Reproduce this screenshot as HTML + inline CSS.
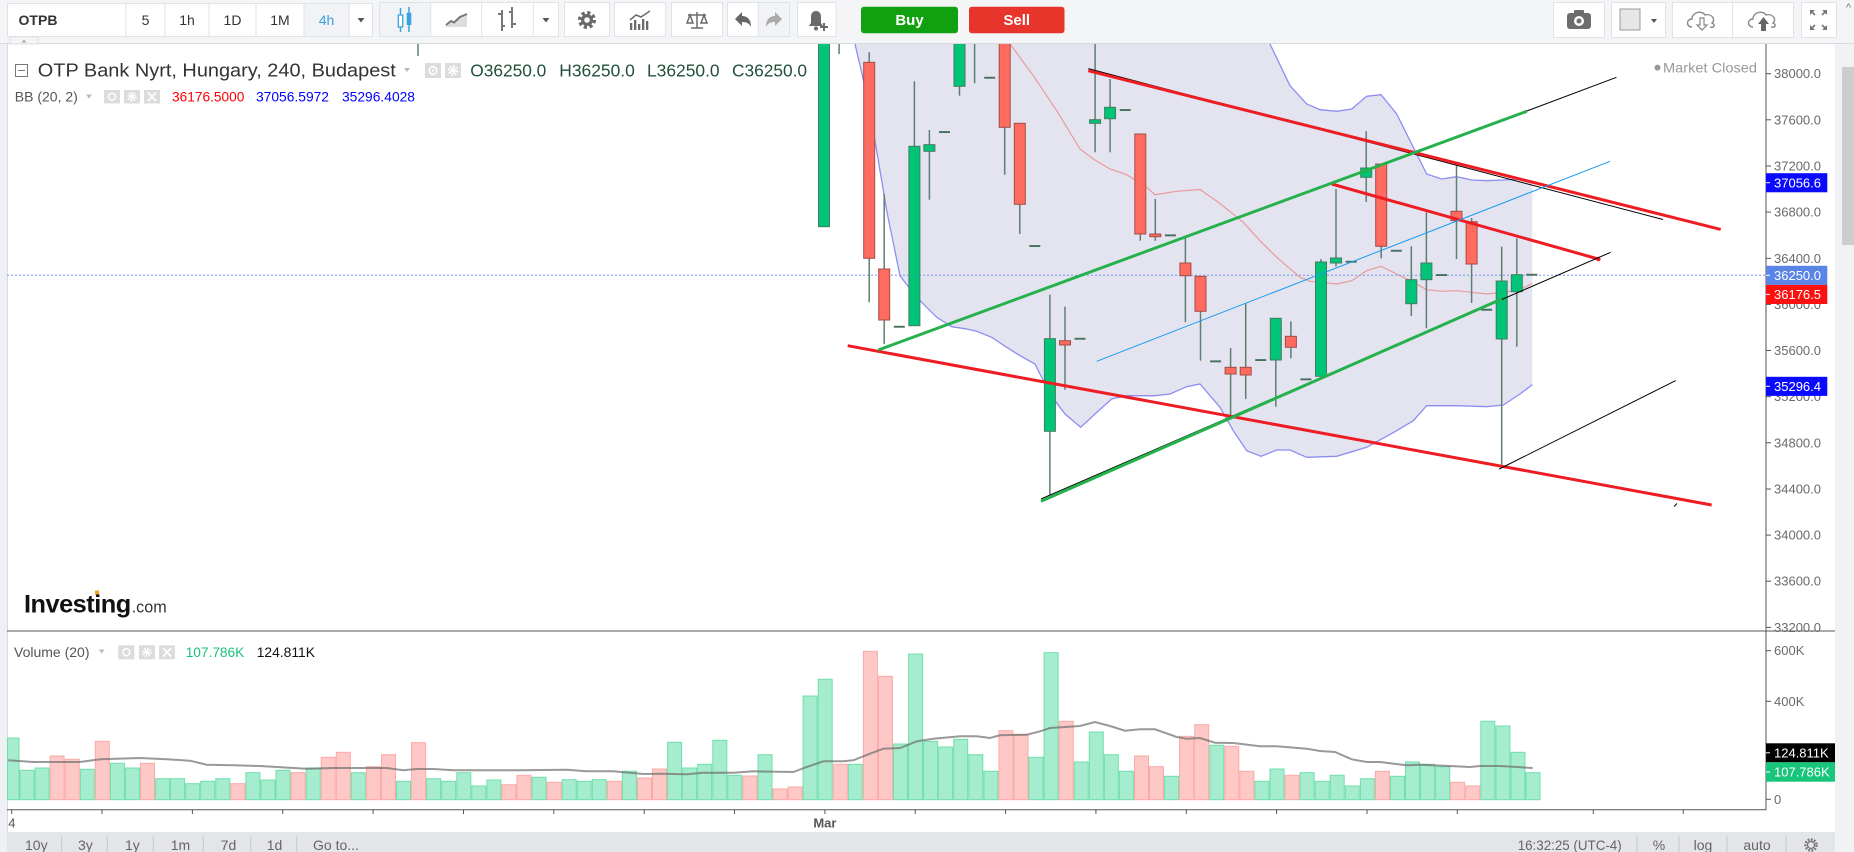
<!DOCTYPE html>
<html><head><meta charset="utf-8"><style>
html,body{margin:0;padding:0;background:#fff;overflow:hidden}
svg{display:block}
text{font-family:"Liberation Sans",Arial,sans-serif}
</style></head><body>
<svg xmlns="http://www.w3.org/2000/svg" width="1854" height="852" viewBox="0 0 1854 852">
<defs>
<clipPath id="pc"><rect x="7" y="44" width="1759" height="587"/></clipPath>
<clipPath id="vc"><rect x="7" y="632" width="1759" height="177"/></clipPath>
</defs>
<!-- backgrounds -->
<rect x="0" y="0" width="1854" height="852" fill="#eff0f3"/>
<rect x="0" y="0" width="1854" height="43.5" fill="#f4f5f7"/>
<line x1="0" y1="43.5" x2="1854" y2="43.5" stroke="#d6d9dd"/>
<rect x="7" y="44" width="1828" height="788" fill="#fff"/>
<line x1="7.5" y1="44" x2="7.5" y2="832" stroke="#d8dbe0"/>
<rect x="1835" y="44" width="19" height="808" fill="#f1f2f4"/>
<rect x="1842" y="67" width="12" height="178" fill="#cdcdcd"/>
<text x="1846" y="11" font-size="11" fill="#777">^</text>
<rect x="7" y="832" width="1828" height="20" fill="#e4e5e8"/>
<rect x="10" y="37" width="28" height="7" fill="#f4f5f7" stroke="#dcdfe3"/>
<path d="M21.5 42.5 L24 39.5 L26.5 42.5Z" fill="#aaa"/>

<!-- TOOLBAR -->
<g font-size="14" fill="#333" text-anchor="middle">
<rect x="7.5" y="3.5" width="365" height="33" fill="#fff" stroke="#dfe2e6"/>
<rect x="304" y="4" width="45" height="32" fill="#f1f3f6"/>
<g stroke="#dfe2e6"><line x1="126" y1="4" x2="126" y2="36"/><line x1="165" y1="4" x2="165" y2="36"/><line x1="209" y1="4" x2="209" y2="36"/><line x1="256" y1="4" x2="256" y2="36"/><line x1="304" y1="4" x2="304" y2="36"/><line x1="349" y1="4" x2="349" y2="36"/></g>
<text x="38" y="25" font-weight="bold">OTPB</text>
<text x="145.5" y="25">5</text><text x="187" y="25">1h</text><text x="232.5" y="25">1D</text><text x="280" y="25">1M</text>
<text x="326.5" y="25" fill="#3ba1de">4h</text>
<path d="M357.5 18 L364.5 18 L361 22.5Z" fill="#555"/>
<!-- chart style group -->
<rect x="379.5" y="2.5" width="179" height="34" fill="#fff" stroke="#dfe2e6"/>
<rect x="380" y="3" width="50.5" height="33" fill="#f1f3f6"/>
<g stroke="#dfe2e6"><line x1="430.7" y1="3" x2="430.7" y2="36"/><line x1="481.7" y1="3" x2="481.7" y2="36"/><line x1="533.3" y1="3" x2="533.3" y2="36"/></g>
<g stroke="#39a3e0" stroke-width="1.5"><line x1="400.5" y1="8" x2="400.5" y2="32"/><line x1="409" y1="7" x2="409" y2="32"/></g>
<rect x="398.3" y="15" width="4.4" height="12" fill="#fff" stroke="#39a3e0" stroke-width="1.3"/>
<rect x="406.7" y="12.7" width="4.6" height="12.3" fill="#39a3e0"/>
<path d="M446 27 L446 25 L451 21 L454 22.5 L460 17 L467 14 L467 27Z" fill="#ddd"/>
<polyline points="446,25 451,21 454,22.5 460,17 467,14" fill="none" stroke="#777" stroke-width="2"/>
<g stroke="#777" stroke-width="2"><line x1="502" y1="10" x2="502" y2="31"/><line x1="498" y1="14" x2="502" y2="14"/><line x1="502" y1="26" x2="505" y2="26"/><line x1="512" y1="7" x2="512" y2="28"/><line x1="509" y1="12" x2="512" y2="12"/><line x1="512" y1="24" x2="516" y2="24"/></g>
<path d="M542.5 18 L549.5 18 L546 22.5Z" fill="#555"/>
<!-- gear -->
<rect x="564.5" y="2.5" width="45" height="34" fill="#fff" stroke="#dfe2e6"/>
<circle cx="587" cy="20" r="7" fill="none" stroke="#6a6a6a" stroke-width="4" stroke-dasharray="3 2.5"/>
<circle cx="587" cy="20" r="6" fill="#6a6a6a"/><circle cx="587" cy="20" r="2.8" fill="#fff"/>
<!-- indicators -->
<rect x="614.5" y="2.5" width="51" height="34" fill="#fff" stroke="#dfe2e6"/>
<g fill="#6a6a6a"><rect x="630" y="23" width="2.3" height="7"/><rect x="634" y="20" width="2.3" height="10"/><rect x="638" y="24" width="2.3" height="6"/><rect x="642" y="19" width="2.3" height="11"/><rect x="646" y="21" width="2.3" height="9"/></g>
<polyline points="630,20 636,15 641,17 650,11" fill="none" stroke="#6a6a6a" stroke-width="1.5"/>
<!-- scales -->
<rect x="671.5" y="2.5" width="51" height="34" fill="#fff" stroke="#dfe2e6"/>
<g stroke="#6a6a6a" stroke-width="1.5" fill="none"><line x1="697" y1="12" x2="697" y2="28"/><line x1="688" y1="15" x2="706" y2="15"/><line x1="691" y1="28" x2="703" y2="28"/><path d="M690 15 L687 23 L693 23Z"/><path d="M704 15 L701 23 L707 23Z"/></g>
<!-- undo redo -->
<rect x="727.5" y="2.5" width="62" height="34" fill="#fff" stroke="#dfe2e6"/>
<rect x="758.5" y="3" width="30.5" height="33" fill="#f1f3f6"/>
<line x1="758.3" y1="3" x2="758.3" y2="36" stroke="#dfe2e6"/>
<path d="M735 19 L742 12 L742 16 C748 16 751 20 751 27 C749 23 746 22 742 22 L742 26Z" fill="#666"/>
<path d="M782 19 L775 12 L775 16 C769 16 766 20 766 27 C768 23 771 22 775 22 L775 26Z" fill="#aaa"/>
<!-- alert -->
<rect x="797.5" y="2.5" width="38.5" height="34" fill="#fff" stroke="#dfe2e6"/>
<path d="M809 26 L811 23 L811 17 C811 13 813 11 816 11 C819 11 821 13 821 17 L821 23 L823 26Z" fill="#6a6a6a"/>
<circle cx="816" cy="28.5" r="2" fill="#6a6a6a"/>
<g stroke="#6a6a6a" stroke-width="2"><line x1="820" y1="27" x2="828" y2="27"/><line x1="824" y1="23" x2="824" y2="31"/></g>
<!-- buy/sell -->
<rect x="861" y="6.7" width="97" height="26.6" rx="3" fill="#10a010"/>
<text x="909.5" y="25" fill="#fff" font-weight="bold" font-size="15">Buy</text>
<rect x="969" y="6.7" width="95.5" height="26.6" rx="3" fill="#e8352b"/>
<text x="1016.7" y="25" fill="#fff" font-weight="bold" font-size="15">Sell</text>
<!-- right tools -->
<rect x="1553.5" y="2.5" width="51" height="35" fill="#fff" stroke="#dfe2e6"/>
<rect x="1574" y="10" width="10" height="4" rx="1" fill="#6d6d6d"/>
<rect x="1567" y="13" width="24" height="16" rx="3" fill="#6d6d6d"/>
<circle cx="1579" cy="21" r="5" fill="#fff"/><circle cx="1579" cy="21" r="2.5" fill="#6d6d6d"/>
<rect x="1611.5" y="2.5" width="54" height="35" fill="#fff" stroke="#dfe2e6"/>
<rect x="1620" y="9" width="20" height="21" fill="#e6e6e6" stroke="#999"/>
<path d="M1651 19 L1657 19 L1654 23Z" fill="#555"/>
<rect x="1672.5" y="2.5" width="121" height="35" fill="#fff" stroke="#dfe2e6"/>
<line x1="1732.6" y1="3" x2="1732.6" y2="37" stroke="#dfe2e6"/>
<path d="M1692 27 C1686 27 1686 19 1692 19 C1692 12 1702 10 1705 15 C1712 13 1716 20 1712 23 C1716 25 1714 28 1710 27" fill="none" stroke="#888" stroke-width="1.4"/>
<path d="M1700 18 L1704 18 L1704 25 L1707 25 L1702 30 L1697 25 L1700 25Z" fill="#fff" stroke="#888" stroke-width="1.2"/>
<path d="M1753 27 C1747 27 1747 19 1753 19 C1753 12 1763 10 1766 15 C1773 13 1777 20 1773 23 C1777 25 1775 28 1771 27" fill="none" stroke="#888" stroke-width="1.4"/>
<path d="M1761 31 L1766 31 L1766 24 L1769 24 L1763.5 17 L1758 24 L1761 24Z" fill="#666"/>
<rect x="1801.5" y="2.5" width="35" height="35" fill="#fff" stroke="#dfe2e6"/>
<g stroke="#777" stroke-width="1.6"><line x1="1811" y1="11" x2="1815" y2="15"/><line x1="1826" y1="11" x2="1822" y2="15"/><line x1="1811" y1="29" x2="1815" y2="25"/><line x1="1826" y1="29" x2="1822" y2="25"/></g>
<g fill="#777"><path d="M1810 10 L1815 10 L1810 15Z"/><path d="M1827 10 L1822 10 L1827 15Z"/><path d="M1810 30 L1815 30 L1810 25Z"/><path d="M1827 30 L1822 30 L1827 25Z"/></g>
</g>

<!-- PRICE PANEL -->
<g clip-path="url(#pc)">
<polygon fill="#e3e4f0" points="850,0 1266,0 1270,44 1290,85.7 1306.7,104 1320,109.7 1336.7,111.3 1351.7,109 1366.7,96.3 1381,94.7 1396.7,114 1413.3,147.3 1426.7,174 1441.7,179 1456.7,176.7 1471.7,180 1486.7,180.7 1503.3,180 1520,179 1532.3,182.5 1532.3,384.7 1520,394 1503.3,405 1486.7,406.7 1456.7,405.7 1426.7,405.7 1413.3,420.7 1396.7,430.7 1366.7,447.3 1336.7,456.3 1306.7,457.3 1290,450 1276.7,450 1261,456.3 1246.7,450.7 1233.3,430.7 1220,407.3 1200,384 1186.7,386.7 1170,394 1155,395.7 1140,395.7 1126.7,395.7 1111.7,399 1095,414 1080.7,427.3 1065,414 1055,400.7 1045,384 1035,364 1020,355.7 1006.7,347.3 991.7,337.3 976.7,331.3 966.7,329 951.7,326.7 936.7,317.3 921.7,302.3 910,289 900,275.7 886.7,210.7 876.7,150.7 866.7,94 855,44 850,0"/>
<polyline fill="none" stroke="#8e8ef2" stroke-width="1.3" points="1266,0 1270,44 1290,85.7 1306.7,104 1320,109.7 1336.7,111.3 1351.7,109 1366.7,96.3 1381,94.7 1396.7,114 1413.3,147.3 1426.7,174 1441.7,179 1456.7,176.7 1471.7,180 1486.7,180.7 1503.3,180 1520,179 1532.3,182.5"/>
<polyline fill="none" stroke="#8e8ef2" stroke-width="1.3" points="850,0 855,44 866.7,94 876.7,150.7 886.7,210.7 900,275.7 910,289 921.7,302.3 936.7,317.3 951.7,326.7 966.7,329 976.7,331.3 991.7,337.3 1006.7,347.3 1020,355.7 1035,364 1045,384 1055,400.7 1065,414 1080.7,427.3 1095,414 1111.7,399 1126.7,395.7 1140,395.7 1155,395.7 1170,394 1186.7,386.7 1200,384 1220,407.3 1233.3,430.7 1246.7,450.7 1261,456.3 1276.7,450 1290,450 1306.7,457.3 1336.7,456.3 1366.7,447.3 1396.7,430.7 1413.3,420.7 1426.7,405.7 1456.7,405.7 1486.7,406.7 1503.3,405 1520,394 1532.3,384.7"/>
<polyline fill="none" stroke="#e99a9c" stroke-width="1.2" points="1000,30 1010,44 1033.3,75.7 1056.7,110.7 1080,149 1093.3,159 1110,169 1126.7,174.7 1146.7,187.3 1155,194.7 1176.7,191.3 1200,189.5 1220,203.5 1243.3,222.3 1260,240.7 1276.7,257.3 1300,277.3 1310,281.3 1336.7,284 1351.7,280.7 1366.7,270.7 1381,266.3 1396.7,274 1413.3,282.3 1426.7,289.7 1441.7,291.3 1456.7,290.7 1471.7,292.3 1486.7,294 1503.3,292.3 1520,289.7 1532.3,283.3"/>
<line x1="7" y1="275.2" x2="1766" y2="275.2" stroke="#7b96f0" stroke-width="1" stroke-dasharray="2 2"/>
<line x1="418" y1="44" x2="418" y2="56" stroke="#5e7f70" stroke-width="1.5"/>

<!-- wicks -->
<g stroke="#5e7f70" stroke-width="1.5">
<line x1="839.1" y1="40" x2="839.1" y2="54"/>
<line x1="869.2" y1="52.3" x2="869.2" y2="302.3"/>
<line x1="884.2" y1="194" x2="884.2" y2="344"/>
<line x1="914.4" y1="81.3" x2="914.4" y2="325.7"/>
<line x1="929.4" y1="130" x2="929.4" y2="199.7"/>
<line x1="959.5" y1="30" x2="959.5" y2="95.7"/>
<line x1="974.6" y1="40" x2="974.6" y2="83.3"/>
<line x1="1004.7" y1="30" x2="1004.7" y2="174.7"/>
<line x1="1019.8" y1="123.3" x2="1019.8" y2="234"/>
<line x1="1049.9" y1="294.7" x2="1049.9" y2="495.7"/>
<line x1="1065" y1="306.7" x2="1065" y2="389.7"/>
<line x1="1095.1" y1="40" x2="1095.1" y2="152.3"/>
<line x1="1110.1" y1="79" x2="1110.1" y2="152.3"/>
<line x1="1140.3" y1="134" x2="1140.3" y2="240.7"/>
<line x1="1155.3" y1="199" x2="1155.3" y2="240.7"/>
<line x1="1185.4" y1="238.3" x2="1185.4" y2="322.3"/>
<line x1="1200.5" y1="276.3" x2="1200.5" y2="360.7"/>
<line x1="1230.6" y1="348" x2="1230.6" y2="415"/>
<line x1="1245.7" y1="303.3" x2="1245.7" y2="399"/>
<line x1="1275.8" y1="318.3" x2="1275.8" y2="406.7"/>
<line x1="1290.9" y1="321.3" x2="1290.9" y2="358.3"/>
<line x1="1321" y1="259" x2="1321" y2="376.3"/>
<line x1="1336" y1="189" x2="1336" y2="266.7"/>
<line x1="1366.2" y1="131.3" x2="1366.2" y2="202"/>
<line x1="1381.2" y1="164" x2="1381.2" y2="258.3"/>
<line x1="1411.3" y1="246.3" x2="1411.3" y2="316"/>
<line x1="1426.4" y1="212.3" x2="1426.4" y2="328.3"/>
<line x1="1456.5" y1="165.7" x2="1456.5" y2="259"/>
<line x1="1471.6" y1="218" x2="1471.6" y2="303"/>
<line x1="1501.7" y1="246.7" x2="1501.7" y2="464.7"/>
<line x1="1516.8" y1="238.3" x2="1516.8" y2="346.7"/>
</g>
<!-- green bodies -->
<g fill="#00c578" stroke="#437c60" stroke-width="1">
<rect x="818.5" y="30" width="11" height="196.7"/>
<rect x="908.9" y="146.3" width="11" height="179.4"/>
<rect x="923.9" y="144.7" width="11" height="6.6"/>
<rect x="954" y="30" width="11" height="56.3"/>
<rect x="1044.4" y="338.7" width="11" height="92.6"/>
<rect x="1089.6" y="119.7" width="11" height="3.6"/>
<rect x="1104.6" y="107.3" width="11" height="11.4"/>
<rect x="1270.3" y="318.3" width="11" height="41.7"/>
<rect x="1315.5" y="262" width="11" height="114.3"/>
<rect x="1330.5" y="258" width="11" height="5"/>
<rect x="1360.7" y="168" width="11" height="9.3"/>
<rect x="1405.8" y="279.7" width="11" height="24"/>
<rect x="1420.9" y="263" width="11" height="16.7"/>
<rect x="1496.2" y="281" width="11" height="58"/>
<rect x="1511.3" y="274.7" width="11" height="17"/>
</g>
<!-- red bodies -->
<g fill="#ff6b5f" stroke="#a24c47" stroke-width="1">
<rect x="863.7" y="62.3" width="11" height="196"/>
<rect x="878.7" y="269" width="11" height="51"/>
<rect x="999.2" y="30" width="11" height="97.3"/>
<rect x="1014.3" y="123.3" width="11" height="81"/>
<rect x="1059.5" y="340.7" width="11" height="4.3"/>
<rect x="1134.8" y="134" width="11" height="100"/>
<rect x="1149.8" y="234" width="11" height="2.7"/>
<rect x="1179.9" y="263" width="11" height="12.7"/>
<rect x="1195" y="276.3" width="11" height="35"/>
<rect x="1225.1" y="367.3" width="11" height="6.7"/>
<rect x="1240.2" y="367.3" width="11" height="7.7"/>
<rect x="1285.4" y="336.3" width="11" height="11"/>
<rect x="1375.7" y="164" width="11" height="82.3"/>
<rect x="1451" y="211.3" width="11" height="9.4"/>
<rect x="1466.1" y="221.7" width="11" height="42.3"/>
</g>
<!-- dashes -->
<g fill="#46705c">
<rect x="893.8" y="325.8" width="11" height="1.9"/>
<rect x="939" y="131.1" width="11" height="1.9"/>
<rect x="984.2" y="76.8" width="11" height="1.9"/>
<rect x="1029.3" y="245.1" width="11" height="1.9"/>
<rect x="1074.5" y="337.8" width="11" height="1.9"/>
<rect x="1119.7" y="109.1" width="11" height="1.9"/>
<rect x="1164.9" y="234.4" width="11" height="1.9"/>
<rect x="1210.1" y="360.4" width="11" height="1.9"/>
<rect x="1255.2" y="359.1" width="11" height="1.9"/>
<rect x="1300.4" y="378.4" width="11" height="1.9"/>
<rect x="1345.6" y="260.8" width="11" height="1.9"/>
<rect x="1390.8" y="249.8" width="11" height="1.9"/>
<rect x="1436" y="274.1" width="11" height="1.9"/>
<rect x="1481.1" y="308.8" width="11" height="1.9"/>
<rect x="1526.3" y="273.8" width="11" height="1.9"/>
</g>

<!-- drawings -->
<line x1="1088.3" y1="68.6" x2="1663" y2="219.5" stroke="#000" stroke-width="1"/>
<line x1="1088.3" y1="70.7" x2="1720.7" y2="229.4" stroke="#ee1d23" stroke-width="3"/>
<line x1="1331.7" y1="184" x2="1598.3" y2="259" stroke="#ee1d23" stroke-width="3"/>
<circle cx="1598.3" cy="259" r="2.3" fill="#ee1d23"/>
<line x1="847.7" y1="345.7" x2="1711.7" y2="505" stroke="#ee1d23" stroke-width="3"/>
<line x1="1400" y1="158.7" x2="1616.5" y2="77.3" stroke="#000" stroke-width="1"/>
<line x1="878.3" y1="350" x2="1526.7" y2="111.3" stroke="#25b14c" stroke-width="3"/>
<line x1="1041" y1="498.9" x2="1610.7" y2="252.3" stroke="#000" stroke-width="1"/>
<line x1="1041" y1="501.3" x2="1501.7" y2="299" stroke="#25b14c" stroke-width="3"/>
<line x1="1096.7" y1="361.3" x2="1610" y2="161.3" stroke="#1a9bef" stroke-width="1"/>
<line x1="1499.3" y1="469" x2="1675.7" y2="380.6" stroke="#000" stroke-width="1"/>
<line x1="1674" y1="506.5" x2="1677" y2="503.5" stroke="#000" stroke-width="1"/>
</g>

<!-- header legend -->
<rect x="15.5" y="64.5" width="12" height="12" fill="none" stroke="#777"/>
<line x1="18" y1="70.5" x2="25" y2="70.5" stroke="#777"/>
<text x="37.8" y="76.5" font-size="18.5" fill="#333" textLength="358" lengthAdjust="spacingAndGlyphs">OTP Bank Nyrt, Hungary, 240, Budapest</text>
<path d="M404 68 L410 68 L407 72Z" fill="#bbb"/>
<rect x="425" y="63" width="16" height="15" fill="#dcdcdc"/><circle cx="433" cy="70.5" r="3.8" fill="none" stroke="#fff" stroke-width="1.6"/><circle cx="433" cy="70.5" r="1.2" fill="#fff"/>
<rect x="445" y="63" width="16" height="15" fill="#dcdcdc"/><circle cx="453" cy="70.5" r="4" fill="none" stroke="#fff" stroke-width="2.5" stroke-dasharray="1.8 1.3"/><circle cx="453" cy="70.5" r="2.5" fill="#fff"/>
<g font-size="17.4" fill="#22503a">
<text x="470.3" y="76.5" textLength="76" lengthAdjust="spacingAndGlyphs">O36250.0</text>
<text x="559.3" y="76.5" textLength="75.5" lengthAdjust="spacingAndGlyphs">H36250.0</text>
<text x="647" y="76.5" textLength="72.6" lengthAdjust="spacingAndGlyphs">L36250.0</text>
<text x="732" y="76.5" textLength="75" lengthAdjust="spacingAndGlyphs">C36250.0</text>
</g>
<text x="14.8" y="101.5" font-size="14" fill="#555">BB (20, 2)</text>
<path d="M86 94.5 L92 94.5 L89 98.5Z" fill="#bbb"/>
<rect x="104" y="90" width="16" height="13.5" fill="#dcdcdc"/><circle cx="112" cy="96.7" r="3.5" fill="none" stroke="#fff" stroke-width="1.5"/>
<rect x="124" y="90" width="16" height="13.5" fill="#dcdcdc"/><circle cx="132" cy="96.7" r="3.6" fill="none" stroke="#fff" stroke-width="2.3" stroke-dasharray="1.6 1.2"/><circle cx="132" cy="96.7" r="2.2" fill="#fff"/>
<rect x="144" y="90" width="16" height="13.5" fill="#dcdcdc"/><path d="M148 92.5 L156 101 M156 92.5 L148 101" stroke="#fff" stroke-width="1.8"/>
<text x="172" y="101.5" font-size="14" fill="#ff0000" textLength="72.4" lengthAdjust="spacingAndGlyphs">36176.5000</text>
<text x="256" y="101.5" font-size="14" fill="#0000ff" textLength="73" lengthAdjust="spacingAndGlyphs">37056.5972</text>
<text x="342" y="101.5" font-size="14" fill="#0000ff" textLength="73" lengthAdjust="spacingAndGlyphs">35296.4028</text>
<circle cx="1657.5" cy="67.6" r="3" fill="#999"/>
<text x="1663" y="72.5" font-size="14" fill="#999" textLength="94" lengthAdjust="spacingAndGlyphs">Market Closed</text>

<!-- Investing logo -->
<text x="24" y="612.7" font-size="25" font-weight="bold" fill="#111" textLength="106.7" lengthAdjust="spacingAndGlyphs" letter-spacing="-0.5">Investing</text>
<rect x="95" y="590.5" width="4" height="4" fill="#f5a21b"/>
<text x="131.7" y="612.7" font-size="17" fill="#333" textLength="35" lengthAdjust="spacingAndGlyphs">.com</text>

<!-- price axis -->
<line x1="7" y1="631" x2="1835" y2="631" stroke="#555" stroke-width="1"/>
<line x1="1766" y1="44" x2="1766" y2="810" stroke="#555" stroke-width="1"/>
<line x1="7" y1="809.7" x2="1766" y2="809.7" stroke="#555" stroke-width="1"/>
<g stroke="#555"><line x1="1766" y1="73.7" x2="1771" y2="73.7"/><line x1="1766" y1="119.8" x2="1771" y2="119.8"/><line x1="1766" y1="166" x2="1771" y2="166"/><line x1="1766" y1="212.1" x2="1771" y2="212.1"/><line x1="1766" y1="258.3" x2="1771" y2="258.3"/><line x1="1766" y1="304.4" x2="1771" y2="304.4"/><line x1="1766" y1="350.5" x2="1771" y2="350.5"/><line x1="1766" y1="396.7" x2="1771" y2="396.7"/><line x1="1766" y1="442.8" x2="1771" y2="442.8"/><line x1="1766" y1="489" x2="1771" y2="489"/><line x1="1766" y1="535.1" x2="1771" y2="535.1"/><line x1="1766" y1="581.2" x2="1771" y2="581.2"/><line x1="1766" y1="627.4" x2="1771" y2="627.4"/>
<line x1="1766" y1="650.7" x2="1771" y2="650.7"/><line x1="1766" y1="701.3" x2="1771" y2="701.3"/><line x1="1766" y1="799.3" x2="1771" y2="799.3"/></g>
<g font-size="13" fill="#6a6a6a">
<text x="1774" y="78.2">38000.0</text><text x="1774" y="124.3">37600.0</text><text x="1774" y="170.5">37200.0</text><text x="1774" y="216.6">36800.0</text><text x="1774" y="262.8">36400.0</text><text x="1774" y="308.9">36000.0</text><text x="1774" y="355">35600.0</text><text x="1774" y="401.2">35200.0</text><text x="1774" y="447.3">34800.0</text><text x="1774" y="493.5">34400.0</text><text x="1774" y="539.6">34000.0</text><text x="1774" y="585.7">33600.0</text><text x="1774" y="631.9">33200.0</text>
<text x="1774" y="655.2">600K</text><text x="1774" y="705.8">400K</text><text x="1774" y="803.8">0</text>
</g>
<g font-size="13" fill="#fff">
<rect x="1766" y="173.2" width="61.3" height="19.1" fill="#0a0aff"/><line x1="1766" y1="182.7" x2="1770" y2="182.7" stroke="#fff"/><text x="1774" y="187.3">37056.6</text>
<rect x="1766" y="265.8" width="61.3" height="19.1" fill="#5a84e6"/><line x1="1766" y1="275.3" x2="1770" y2="275.3" stroke="#fff"/><text x="1774" y="279.9">36250.0</text>
<rect x="1766" y="284.9" width="61.3" height="19.1" fill="#ff1010"/><line x1="1766" y1="294.4" x2="1770" y2="294.4" stroke="#fff"/><text x="1774" y="299">36176.5</text>
<rect x="1766" y="376.8" width="61.3" height="19.1" fill="#0a0aff"/><line x1="1766" y1="386.3" x2="1770" y2="386.3" stroke="#fff"/><text x="1774" y="390.9">35296.4</text>
<rect x="1766" y="743.3" width="69" height="19" fill="#000"/><line x1="1766" y1="752.8" x2="1770" y2="752.8" stroke="#fff"/><text x="1774" y="757.4">124.811K</text>
<rect x="1766" y="762.3" width="69" height="19.4" fill="#17c67b"/><line x1="1766" y1="772" x2="1770" y2="772" stroke="#fff"/><text x="1774" y="776.6">107.786K</text>
</g>

<!-- VOLUME PANEL -->
<g clip-path="url(#vc)">
<g fill="#a6ecce" stroke="#70dfab" stroke-width="1">
<rect x="7.5" y="738" width="11.5" height="61.7"/>
<rect x="20" y="770.3" width="14" height="29.4"/><rect x="35.1" y="768" width="14" height="31.7"/><rect x="80.3" y="769.3" width="14" height="30.4"/><rect x="110.4" y="763.3" width="14" height="36.4"/><rect x="125.4" y="768" width="14" height="31.7"/><rect x="155.6" y="778.7" width="14" height="21"/><rect x="170.6" y="778.7" width="14" height="21"/><rect x="185.7" y="783.7" width="14" height="16"/><rect x="200.7" y="781.3" width="14" height="18.4"/><rect x="215.8" y="778.7" width="14" height="21"/><rect x="245.9" y="772.7" width="14" height="27"/><rect x="261" y="780" width="14" height="19.7"/><rect x="276" y="770.3" width="14" height="29.4"/><rect x="306.2" y="768" width="14" height="31.7"/><rect x="351.3" y="772.7" width="14" height="27"/><rect x="396.5" y="781.3" width="14" height="18.4"/><rect x="426.6" y="778.7" width="14" height="21"/><rect x="441.7" y="781.3" width="14" height="18.4"/><rect x="456.8" y="772.7" width="14" height="27"/><rect x="471.8" y="786" width="14" height="13.7"/><rect x="486.9" y="780" width="14" height="19.7"/><rect x="532.1" y="777.3" width="14" height="22.4"/><rect x="562.2" y="779.7" width="14" height="20"/><rect x="577.2" y="781.3" width="14" height="18.4"/><rect x="592.3" y="779.7" width="14" height="20"/><rect x="622.4" y="771.3" width="14" height="28.4"/><rect x="667.6" y="742.3" width="14" height="57.4"/><rect x="682.7" y="768" width="14" height="31.7"/><rect x="697.7" y="764.3" width="14" height="35.4"/><rect x="712.8" y="740.3" width="14" height="59.4"/><rect x="727.8" y="775.3" width="14" height="24.4"/><rect x="758" y="754.7" width="14" height="45"/><rect x="803.1" y="696" width="14" height="103.7"/><rect x="818.2" y="679.3" width="14" height="120.4"/><rect x="848.3" y="764.3" width="14" height="35.4"/><rect x="893.5" y="744" width="14" height="55.7"/><rect x="908.6" y="654" width="14" height="145.7"/><rect x="923.6" y="741.3" width="14" height="58.4"/><rect x="938.7" y="747" width="14" height="52.7"/><rect x="953.7" y="739.3" width="14" height="60.4"/><rect x="968.8" y="754.7" width="14" height="45"/><rect x="983.9" y="771.3" width="14" height="28.4"/><rect x="1029" y="757.3" width="14" height="42.4"/><rect x="1044.1" y="652.7" width="14" height="147"/><rect x="1074.2" y="762" width="14" height="37.7"/><rect x="1089.3" y="732" width="14" height="67.7"/><rect x="1104.3" y="754.7" width="14" height="45"/><rect x="1119.4" y="771.3" width="14" height="28.4"/><rect x="1164.6" y="776.3" width="14" height="23.4"/><rect x="1209.8" y="745.3" width="14" height="54.4"/><rect x="1254.9" y="781.3" width="14" height="18.4"/><rect x="1270" y="769" width="14" height="30.7"/><rect x="1300.1" y="772.7" width="14" height="27"/><rect x="1315.2" y="781.3" width="14" height="18.4"/><rect x="1330.2" y="775.3" width="14" height="24.4"/><rect x="1345.3" y="786" width="14" height="13.7"/><rect x="1360.4" y="778.7" width="14" height="21"/><rect x="1390.5" y="776.3" width="14" height="23.4"/><rect x="1405.5" y="762" width="14" height="37.7"/><rect x="1420.6" y="764.3" width="14" height="35.4"/><rect x="1435.7" y="766.7" width="14" height="33"/><rect x="1480.8" y="721.3" width="14" height="78.4"/><rect x="1495.9" y="726" width="14" height="73.7"/><rect x="1511" y="752.3" width="14" height="47.4"/><rect x="1526" y="772.7" width="14" height="27"/>
</g>
<g fill="#fdc8c6" stroke="#f9aaa7" stroke-width="1">
<rect x="50.1" y="756" width="14" height="43.7"/><rect x="65.2" y="759.3" width="14" height="40.4"/><rect x="95.3" y="741.3" width="14" height="58.4"/><rect x="140.5" y="763.3" width="14" height="36.4"/><rect x="230.9" y="783.7" width="14" height="16"/><rect x="291.1" y="772.7" width="14" height="27"/><rect x="321.2" y="757.3" width="14" height="42.4"/><rect x="336.3" y="752.3" width="14" height="47.4"/><rect x="366.4" y="766.7" width="14" height="33"/><rect x="381.5" y="754.7" width="14" height="45"/><rect x="411.6" y="742.7" width="14" height="57"/><rect x="501.9" y="784.7" width="14" height="15"/><rect x="517" y="775.3" width="14" height="24.4"/><rect x="547.1" y="782.3" width="14" height="17.4"/><rect x="607.4" y="781.3" width="14" height="18.4"/><rect x="637.5" y="778" width="14" height="21.7"/><rect x="652.5" y="769" width="14" height="30.7"/><rect x="742.9" y="776" width="14" height="23.7"/><rect x="773" y="789" width="14" height="10.7"/><rect x="788.1" y="787" width="14" height="12.7"/><rect x="833.3" y="764.3" width="14" height="35.4"/><rect x="863.4" y="651.3" width="14" height="148.4"/><rect x="878.4" y="676.3" width="14" height="123.4"/><rect x="998.9" y="730.7" width="14" height="69"/><rect x="1014" y="734.3" width="14" height="65.4"/><rect x="1059.2" y="721.3" width="14" height="78.4"/><rect x="1134.5" y="756" width="14" height="43.7"/><rect x="1149.5" y="766.7" width="14" height="33"/><rect x="1179.6" y="736.3" width="14" height="63.4"/><rect x="1194.7" y="724.7" width="14" height="75"/><rect x="1224.8" y="746.3" width="14" height="53.4"/><rect x="1239.9" y="771.3" width="14" height="28.4"/><rect x="1285.1" y="775.3" width="14" height="24.4"/><rect x="1375.4" y="771.3" width="14" height="28.4"/><rect x="1450.7" y="782.3" width="14" height="17.4"/><rect x="1465.8" y="786" width="14" height="13.7"/>
</g>
<polyline fill="none" stroke="#6e6e6e" stroke-opacity="0.7" stroke-width="2" points="8.3,760.3 33.3,762 80,762 100,759.3 140,758 166.7,759.3 190,760.7 206.7,764.7 233.3,765.3 260,766 276.7,767 306.7,768.7 333.3,768 386.7,768 403.3,770.3 416.7,769 433.3,769 453.3,770.3 520,770.3 566.7,769.7 586.7,771.3 613.3,771.3 643.3,774 660,773.7 686.7,774.3 703.3,772.7 733.3,772.7 753.3,771.3 793.3,772 806.7,767 823.3,761.3 843.3,761.3 853.3,760.3 870,753.7 883.3,748.7 900,748 916.7,741.3 933.3,738.7 960,736.3 976.7,736.3 990,738 1000,735.3 1026.7,734.7 1040,731.3 1050,728 1080,726 1095,722 1110,726 1125,730.7 1140,729.3 1155,729.3 1176.7,737 1186.7,738.7 1200,738 1215,742.7 1233.3,743 1260,746.3 1276.7,746.3 1306.7,748.7 1320,751 1335,752 1351.7,759.3 1366.7,762 1380,762 1406.7,765.3 1420,764.7 1450,766 1470,767 1480,766 1500,766 1516.7,767 1532.7,768"/>
</g>
<text x="14" y="657" font-size="14" fill="#555">Volume (20)</text>
<path d="M98.7 649.5 L104.7 649.5 L101.7 653.5Z" fill="#bbb"/>
<rect x="118.3" y="645.3" width="16" height="14" fill="#dcdcdc"/><circle cx="126.3" cy="652.3" r="3.5" fill="none" stroke="#fff" stroke-width="1.5"/>
<rect x="139" y="645.3" width="16" height="14" fill="#dcdcdc"/><circle cx="147" cy="652.3" r="3.6" fill="none" stroke="#fff" stroke-width="2.3" stroke-dasharray="1.6 1.2"/><circle cx="147" cy="652.3" r="2.2" fill="#fff"/>
<rect x="159" y="645.3" width="16" height="14" fill="#dcdcdc"/><path d="M163 648 L171 656.5 M171 648 L163 656.5" stroke="#fff" stroke-width="1.8"/>
<text x="185.7" y="657" font-size="14" fill="#19c27c" textLength="58.6" lengthAdjust="spacingAndGlyphs">107.786K</text>
<text x="256.7" y="657" font-size="14" fill="#111" textLength="58.3" lengthAdjust="spacingAndGlyphs">124.811K</text>

<!-- time axis -->
<g stroke="#555" stroke-width="1">
<line x1="11.7" y1="809.7" x2="11.7" y2="814"/><line x1="102" y1="809.7" x2="102" y2="814"/><line x1="192.4" y1="809.7" x2="192.4" y2="814"/><line x1="282.7" y1="809.7" x2="282.7" y2="814"/><line x1="373.1" y1="809.7" x2="373.1" y2="814"/><line x1="463.5" y1="809.7" x2="463.5" y2="814"/><line x1="553.8" y1="809.7" x2="553.8" y2="814"/><line x1="644.2" y1="809.7" x2="644.2" y2="814"/><line x1="734.5" y1="809.7" x2="734.5" y2="814"/><line x1="824.9" y1="809.7" x2="824.9" y2="814"/><line x1="915.2" y1="809.7" x2="915.2" y2="814"/><line x1="1005.6" y1="809.7" x2="1005.6" y2="814"/><line x1="1095.9" y1="809.7" x2="1095.9" y2="814"/><line x1="1186.3" y1="809.7" x2="1186.3" y2="814"/><line x1="1276.6" y1="809.7" x2="1276.6" y2="814"/><line x1="1367" y1="809.7" x2="1367" y2="814"/><line x1="1457.3" y1="809.7" x2="1457.3" y2="814"/><line x1="1593.3" y1="809.7" x2="1593.3" y2="814"/><line x1="1683.3" y1="809.7" x2="1683.3" y2="814"/>
</g>
<text x="8.3" y="827.5" font-size="13" fill="#555">4</text>
<text x="824.9" y="827.5" font-size="13" fill="#555" font-weight="bold" text-anchor="middle">Mar</text>

<!-- bottom bar -->
<g stroke="#c6c7ca"><line x1="61.7" y1="836" x2="61.7" y2="852"/><line x1="107.3" y1="836" x2="107.3" y2="852"/><line x1="153.3" y1="836" x2="153.3" y2="852"/><line x1="203.3" y1="836" x2="203.3" y2="852"/><line x1="250.7" y1="836" x2="250.7" y2="852"/><line x1="296.7" y1="836" x2="296.7" y2="852"/><line x1="1637" y1="836" x2="1637" y2="852"/><line x1="1679" y1="836" x2="1679" y2="852"/><line x1="1727" y1="836" x2="1727" y2="852"/><line x1="1786" y1="836" x2="1786" y2="852"/></g>
<g font-size="14" fill="#666">
<text x="25" y="850">10y</text><text x="78" y="850">3y</text><text x="125" y="850">1y</text><text x="170.7" y="850">1m</text><text x="220.7" y="850">7d</text><text x="266.7" y="850">1d</text><text x="313" y="850">Go to...</text>
<text x="1517.7" y="850" textLength="104" lengthAdjust="spacingAndGlyphs">16:32:25 (UTC-4)</text>
<text x="1659" y="850" text-anchor="middle">%</text><text x="1703" y="850" text-anchor="middle">log</text><text x="1757" y="850" text-anchor="middle">auto</text>
</g>
<circle cx="1811" cy="845" r="5.5" fill="none" stroke="#777" stroke-width="2.5" stroke-dasharray="1.8 1.4"/>
<circle cx="1811" cy="845" r="3.5" fill="none" stroke="#777" stroke-width="1.2"/>
</svg>
</body></html>
